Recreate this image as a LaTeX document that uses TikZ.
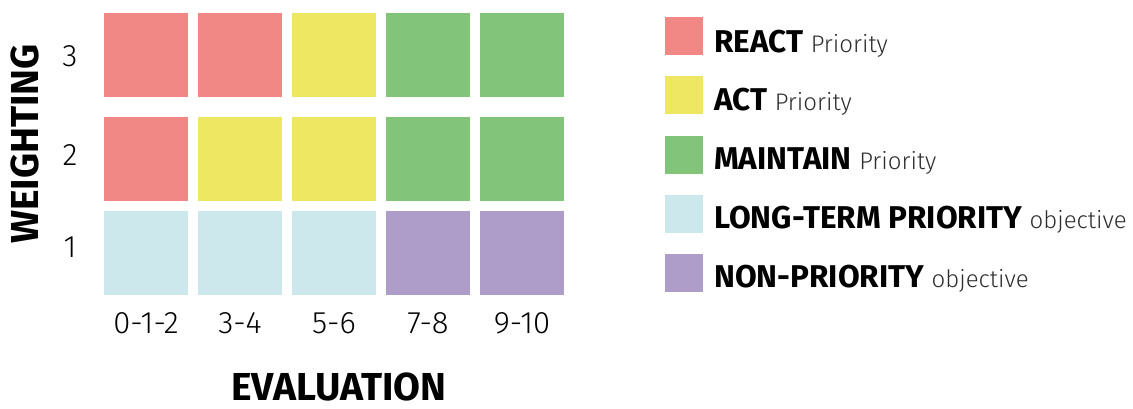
\documentclass[tikz,border=0pt]{standalone}
\usepackage{fontspec}
\setmainfont{Fira Sans}
\newfontfamily\lightfont{Fira Sans Light}
\newfontfamily\heavyfont{Fira Sans Bold}

\definecolor{cred}{RGB}{242,136,134}
\definecolor{cyellow}{RGB}{237,231,98}
\definecolor{cgreen}{RGB}{130,196,122}
\definecolor{cblue}{RGB}{204,232,237}
\definecolor{cpurple}{RGB}{175,157,201}
\definecolor{softtext}{RGB}{45,45,45}

% light grey-ish qualifier after each legend keyword
\newcommand{\legendqual}[1]{{\lightfont\fontsize{24}{24}\selectfont\color{softtext}#1}}

\tikzset{
  cell/.style={draw=none, inner sep=0pt, minimum width=84pt, minimum height=84pt},
  swatch/.style={draw=none, inner sep=0pt, minimum width=38pt, minimum height=38pt},
  ticklabel/.style={inner sep=0pt, font=\lightfont\fontsize{31}{31}\selectfont},
  axislabel/.style={inner sep=0pt, font=\heavyfont\fontsize{39}{39}\selectfont},
  legendtext/.style={inner sep=0pt, anchor=base west, font=\heavyfont\fontsize{31.5}{31.5}\selectfont},
}

\begin{document}
\begin{tikzpicture}[x=1pt, y=-1pt]
  \useasboundingbox (0,0) rectangle (1133,408);

  % weighting 3
  \node[cell, fill=cred]    (c31) at (146,55) {};
  \node[cell, fill=cred]    (c32) at (240,55) {};
  \node[cell, fill=cyellow] (c33) at (334,55) {};
  \node[cell, fill=cgreen]  (c34) at (428,55) {};
  \node[cell, fill=cgreen]  (c35) at (522,55) {};
  % weighting 2
  \node[cell, fill=cred]    (c21) at (146,159) {};
  \node[cell, fill=cyellow] (c22) at (240,159) {};
  \node[cell, fill=cyellow] (c23) at (334,159) {};
  \node[cell, fill=cgreen]  (c24) at (428,159) {};
  \node[cell, fill=cgreen]  (c25) at (522,159) {};
  % weighting 1
  \node[cell, fill=cblue]   (c11) at (146,253) {};
  \node[cell, fill=cblue]   (c12) at (240,253) {};
  \node[cell, fill=cblue]   (c13) at (334,253) {};
  \node[cell, fill=cpurple] (c14) at (428,253) {};
  \node[cell, fill=cpurple] (c15) at (522,253) {};

  % row labels
  \node[ticklabel] (w3) at (70,56) {3};
  \node[ticklabel] (w2) at (70,155) {2};
  \node[ticklabel] (w1) at (70,247) {1};

  % column labels
  \node[ticklabel, anchor=base] (e1) at (146,333) {0-1-2};
  \node[ticklabel, anchor=base] (e2) at (240,333) {3-4};
  \node[ticklabel, anchor=base] (e3) at (334,333) {5-6};
  \node[ticklabel, anchor=base] (e4) at (428,333) {7-8};
  \node[ticklabel, anchor=base] (e5) at (522,333) {9-10};

  % axis titles
  \node[axislabel, anchor=base] (xtitle) at (339,400) {EVALUATION};
  \node[axislabel, anchor=base, rotate=90] (ytitle) at (38,144) {WEIGHTING};

  % legend
  \node[swatch, fill=cred]    (k1) at (684,36)  {};
  \node[swatch, fill=cyellow] (k2) at (684,95)  {};
  \node[swatch, fill=cgreen]  (k3) at (684,155) {};
  \node[swatch, fill=cblue]   (k4) at (684,214) {};
  \node[swatch, fill=cpurple] (k5) at (684,273) {};

  \node[legendtext] (t1) at (714,52)  {REACT \legendqual{Priority}};
  \node[legendtext] (t2) at (714,110) {ACT \legendqual{Priority}};
  \node[legendtext] (t3) at (714,169) {MAINTAIN \legendqual{Priority}};
  \node[legendtext] (t4) at (714,228) {LONG-TERM PRIORITY \legendqual{objective}};
  \node[legendtext] (t5) at (714,287) {NON-PRIORITY \legendqual{objective}};
\end{tikzpicture}
\end{document}
